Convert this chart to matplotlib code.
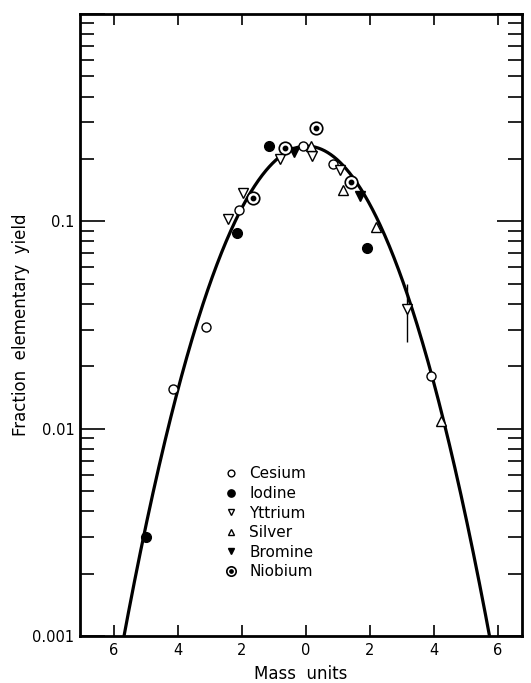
import numpy as np
import matplotlib
matplotlib.use("Agg")
import matplotlib.pyplot as plt
from matplotlib.ticker import LogLocator, NullFormatter

# yields (x = mass units from peak, y = fraction elementary yield)
cesium_x = [-4.15, -3.12, -2.09, -0.10, 0.85, 3.90]
cesium_y = [0.0156, 0.0308, 0.113, 0.232, 0.190, 0.0179]

iodine_x = [-4.98, -2.15, -1.16, 1.90]
iodine_y = [0.0030, 0.088, 0.231, 0.0746]

yttrium_x = [-2.43, -1.96, -0.81, 0.18, 1.08, 3.15]
yttrium_y = [0.103, 0.137, 0.200, 0.207, 0.177, 0.0378]
yttrium_err_lo = [0, 0, 0, 0, 0, 0.0117]
yttrium_err_hi = [0, 0, 0, 0, 0, 0.0122]

silver_x = [0.16, 1.15, 2.19, 4.22]
silver_y = [0.232, 0.142, 0.094, 0.0109]

bromine_x = [-0.37, 1.69]
bromine_y = [0.217, 0.133]

niobium_x = [-1.65, -0.65, 0.33, 1.40]
niobium_y = [0.130, 0.225, 0.281, 0.154]

# gaussian fit curve
center = 0.03
sigma = 1.73

xticks = [-6, -4, -2, 0, 2, 4, 6]
xtick_labels = ["6", "4", "2", "0", "2", "4", "6"]
yticks = [0.001, 0.01, 0.1, 1]
ytick_labels = ["0.001", "0.01", "0.1", ""]

fig = plt.figure(figsize=(5.31, 6.83), dpi=100)
ax = fig.add_axes([0.1507, 0.0688, 0.8323, 0.9107])

xs = np.linspace(-7.2, 7.2, 600)
curve = np.exp(-(xs - center) ** 2 / (2 * sigma ** 2)) / (sigma * np.sqrt(2 * np.pi))
ax.plot(xs, curve, color="black", lw=2.3, zorder=2)

ms = 6.5
h_cs, = ax.plot(cesium_x, cesium_y, "o", mfc="white", mec="black", mew=1.0, ms=ms, ls="none", zorder=3)
h_i, = ax.plot(iodine_x, iodine_y, "o", mfc="black", mec="black", ms=ms + 0.5, ls="none", zorder=3)
ax.errorbar(yttrium_x, yttrium_y, yerr=[yttrium_err_lo, yttrium_err_hi], fmt="none",
            ecolor="black", elinewidth=1.0, capsize=0, zorder=2)
h_y, = ax.plot(yttrium_x, yttrium_y, "v", mfc="white", mec="black", mew=1.0, ms=ms, ls="none", zorder=3)
h_ag, = ax.plot(silver_x, silver_y, "^", mfc="white", mec="black", mew=1.0, ms=ms, ls="none", zorder=3)
h_br, = ax.plot(bromine_x, bromine_y, "v", mfc="black", mec="black", ms=ms, ls="none", zorder=3)
h_nb1, = ax.plot(niobium_x, niobium_y, "o", mfc="white", mec="black", mew=1.2, ms=ms + 2.5, ls="none", zorder=3)
h_nb2, = ax.plot(niobium_x, niobium_y, "o", mfc="black", mec="black", ms=3.2, ls="none", zorder=4)

ax.set_yscale("log")
ax.set_xlim(-7.05, 6.75)
ax.set_ylim(0.001, 1)

ax.set_xticks(xticks, labels=xtick_labels)
ax.set_yticks(yticks, labels=ytick_labels)
ax.yaxis.set_minor_locator(LogLocator(base=10, subs=np.arange(2, 10)))
ax.yaxis.set_minor_formatter(NullFormatter())

ax.tick_params(axis="both", which="both", direction="in", top=True, right=True,
               labelsize=10.5, width=1.2, colors="black")
ax.tick_params(axis="x", which="major", length=8, pad=5)
ax.tick_params(axis="y", which="major", length=18, pad=4)
ax.tick_params(axis="y", which="minor", length=10)
ax.tick_params(axis="y", which="minor", right=True, length=10)
for s in ax.spines.values():
    s.set_linewidth(2.0)

ax.set_xlabel("Mass  units", fontsize=12, labelpad=5)
ax.set_ylabel("Fraction  elementary  yield", fontsize=12, labelpad=2)

leg = ax.legend([h_cs, h_i, h_y, h_ag, h_br, (h_nb1, h_nb2)],
                ["Cesium", "Iodine", "Yttrium", "Silver", "Bromine", "Niobium"],
                loc="upper left", bbox_to_anchor=(0.31, 0.285), frameon=False,
                fontsize=11, markerscale=0.75, handlelength=0.8, handletextpad=0.8,
                labelspacing=0.3, borderpad=0)

fig.savefig("out.png", dpi=100)
